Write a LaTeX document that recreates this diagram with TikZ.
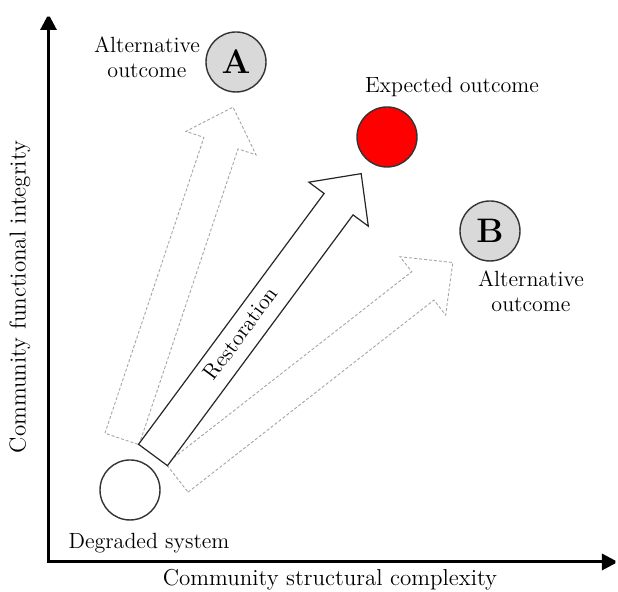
\documentclass[tikz,border=0pt]{standalone}
\usetikzlibrary{arrows.meta}
\definecolor{ghost}{HTML}{A6A6A6}
\definecolor{outgray}{HTML}{D9D9D9}
\begin{document}
\begin{tikzpicture}[x=0.5pt,y=0.5pt,
    state/.style={circle,draw=black!80,line width=0.7pt,minimum size=30pt,inner sep=0pt},
    letter/.style={font=\fontsize{17}{17}\selectfont\bfseries},
    lbl/.style={font=\fontsize{11}{12.5}\selectfont,align=center},
    axlbl/.style={font=\fontsize{11.5}{13}\selectfont},
    alt/.style={draw=ghost,dash pattern=on 1.5pt off 1pt,line width=0.45pt,fill=white},
    main/.style={draw=black!85,line width=0.6pt,fill=white}]
  \useasboundingbox (0,0) rectangle (618,592);
  % axes
  \coordinate (origin) at (48.5,30);
  \coordinate (ytop) at (48.5,578);
  \coordinate (xend) at (618,30);
  \draw[line width=1.5pt,miter limit=2,{Triangle[length=8pt,width=8pt]}-{Triangle[length=8pt,width=8pt]}]
    (ytop) -- (origin) -- (xend);
  \node[axlbl,rotate=90] (ylabel) at (20,295) {Community functional integrity};
  \node[axlbl] (xlabel) at (330,12) {Community structural complexity};
  % alternative pathways
  \begin{scope}[shift={(122,153)},rotate=71.5]
    \draw[alt] (0,-18) -- (312,-18) -- (312,-37) -- (350,0) -- (312,37) -- (312,18) -- (0,18) -- cycle;
  \end{scope}
  \begin{scope}[shift={(177,114)},rotate=38]
    \draw[alt] (0,-18) -- (312,-18) -- (312,-37) -- (350,0) -- (312,37) -- (312,18) -- (0,18) -- cycle;
  \end{scope}
  % restoration pathway
  \begin{scope}[shift={(153,137)},rotate=53.5]
    \draw[main] (0,-18) -- (312,-18) -- (312,-37) -- (350,0) -- (312,37) -- (312,18) -- (0,18) -- cycle;
    \node[lbl,rotate=53.5] (rest) at (150,2) {Restoration};
  \end{scope}
  % states
  \node[state] (deg) at (130,102) {};
  \node[state,fill=outgray,letter] (A) at (236,530) {A};
  \node[state,fill=red] (exp) at (387,455) {};
  \node[state,fill=outgray,letter] (B) at (490,361) {B};
  \node[lbl] (deglbl) at (149,49) {Degraded system};
  \node[lbl] (Albl) at (147,535) {Alternative\\outcome};
  \node[lbl] (explbl) at (452,505) {Expected outcome};
  \node[lbl] (Blbl) at (531,301) {Alternative\\outcome};
\end{tikzpicture}
\end{document}
